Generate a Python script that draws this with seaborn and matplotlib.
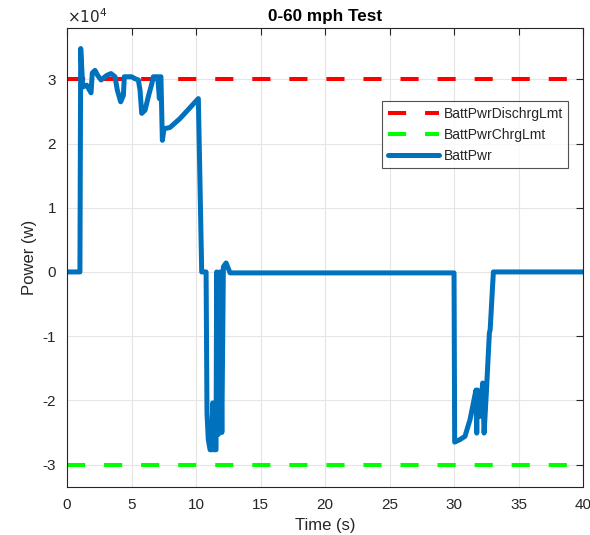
import numpy as np
import pandas as pd
import seaborn as sns
import matplotlib.pyplot as plt
from matplotlib.ticker import FuncFormatter

# battery power trace (time in s, power in W)
time_s = [0, 1.0, 1.06, 1.22, 1.52, 1.86, 1.96, 2.17, 2.38, 2.64, 3.07, 3.41,
          3.72, 3.9, 4.16, 4.37, 4.44, 5.01, 5.27, 5.53, 5.66, 5.79, 6.05,
          6.3, 6.57, 6.69, 7.03, 7.16, 7.21, 7.28, 7.39, 7.52, 7.98, 8.76,
          10.18, 10.44, 10.78, 10.85, 10.95, 11.09, 11.22, 11.29, 11.4, 11.55,
          11.6, 11.73, 11.86, 12.0, 12.12, 12.33, 12.64, 30.0, 30.05, 30.47,
          30.85, 31.24, 31.5, 31.7, 31.76, 31.82, 32.0, 32.22, 32.33, 32.5,
          32.74, 32.8, 33.05, 40]
batt_pwr = [0, 0, 34800, 28800, 29100, 27900, 31000, 31400, 30600, 29900,
            30600, 30900, 30400, 28300, 26500, 27500, 30400, 30400, 30100,
            29900, 28300, 24700, 25200, 27300, 29300, 30400, 30400, 27000,
            30400, 30400, 20500, 22300, 22500, 23900, 27000, 0, 0, -22000,
            -26100, -27700, -27700, -20400, -27700, -27700, 0, -25300, 0,
            -25000, 800, 1400, -150, -150, -26500, -26100, -25600, -23000,
            -20400, -18400, -25100, -18400, -22500, -17300, -25100, -19000,
            -9500, -9000, 0, 0]
dischrg_lmt = 30000
chrg_lmt = -30000

df = pd.DataFrame({"Time": time_s, "BattPwr": batt_pwr})

sns.set_style("whitegrid")
plt.rcParams["font.family"] = ["Liberation Sans", "DejaVu Sans"]

fig = plt.figure(figsize=(5.9, 5.35), dpi=100)
ax = fig.add_axes([0.1136, 0.0897, 0.8746, 0.858])

ax.axhline(dischrg_lmt, color="#ff0000", lw=2.9, ls=(0, (4.5, 4.7)),
           label="BattPwrDischrgLmt")
ax.axhline(chrg_lmt, color="#00ff00", lw=2.9, ls=(0, (4.5, 4.7)),
           label="BattPwrChrgLmt")
sns.lineplot(data=df, x="Time", y="BattPwr", color="#0072bd", lw=3.6,
             label="BattPwr", ax=ax, sort=False)

ax.set_xlim(0, 40)
ax.set_ylim(-33500, 38000)
ax.set_xticks(range(0, 41, 5))
ax.set_yticks(range(-30000, 30001, 10000))
ax.yaxis.set_major_formatter(FuncFormatter(lambda v, p: f"{v / 1e4:g}"))

ax.grid(True, color="#e5e5e5", lw=0.8)
for s in ax.spines.values():
    s.set_color("#262626")
    s.set_linewidth(0.8)
ax.tick_params(direction="in", length=5, color="#262626", labelsize=11,
               labelcolor="#262626", top=True, right=True, pad=8)

ax.set_title("0-60 mph Test", fontsize=12.3, fontweight="bold", color="black", pad=5)
ax.set_xlabel("Time (s)", fontsize=12, color="#262626", labelpad=4)
ax.set_ylabel("Power (w)", fontsize=12, color="#262626", labelpad=4)
ax.text(0, 1.005, r"$\times10^4$", transform=ax.transAxes, fontsize=11,
        color="#262626", ha="left", va="bottom")

leg = ax.legend(loc="upper right", bbox_to_anchor=(0.985, 0.855), fontsize=10,
                frameon=True, fancybox=False, edgecolor="#262626",
                handlelength=3.7, borderpad=0.4, labelspacing=0.5,
                handletextpad=0.3)
leg.get_frame().set_linewidth(0.8)

fig.savefig("out.png", dpi=100)
